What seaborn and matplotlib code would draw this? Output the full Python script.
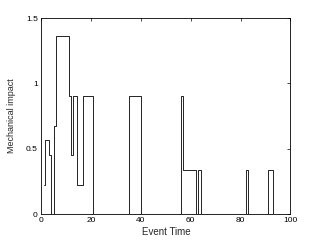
import pandas as pd
import matplotlib
matplotlib.use('Agg')
import matplotlib.pyplot as plt
import seaborn as sns

# Step data (value holds until the next event time)
event_time = [1.0, 1.4, 3.2, 3.8, 5.1, 5.9, 11.2, 12.0, 12.9, 14.2, 16.9, 20.9,
              35.2, 40.0, 56.1, 56.8, 62.0, 62.9, 64.0, 82.1, 83.1, 91.2, 93.2, 100.0]
impact = [0.22, 0.57, 0.45, 0.0, 0.67, 1.36, 0.90, 0.45, 0.90, 0.22, 0.90, 0.0,
          0.90, 0.0, 0.90, 0.34, 0.0, 0.34, 0.0, 0.34, 0.0, 0.34, 0.0, 0.0]

x_ticks = [0, 20, 40, 60, 80, 100]
y_ticks = [0, 0.5, 1, 1.5]
y_tick_labels = ['0', '0.5', '1', '1.5']

df = pd.DataFrame({'Event Time': event_time, 'Mechanical impact': impact})

sns.set_style('white')
plt.rcParams['font.family'] = ['Liberation Sans', 'DejaVu Sans']

fig = plt.figure(figsize=(3.21, 2.42), dpi=100)
ax = fig.add_axes([0.1287, 0.1157, 0.7757, 0.8099])

sns.lineplot(data=df, x='Event Time', y='Mechanical impact', ax=ax,
             drawstyle='steps-post', estimator=None, sort=False,
             color='black', linewidth=0.6)

ax.set_xlim(0, 100)
ax.set_ylim(0, 1.5)
ax.set_xticks(x_ticks)
ax.set_yticks(y_ticks)
ax.set_yticklabels(y_tick_labels)
ax.tick_params(direction='in', length=2.5, width=0.5, labelsize=6,
               top=True, right=True, colors='black', pad=2.5)
for s in ax.spines.values():
    s.set_linewidth(0.6)
    s.set_color('black')

ax.set_xlabel('Event Time', fontsize=7, labelpad=2)
ax.set_ylabel('Mechanical impact', fontsize=6.5, labelpad=7)

fig.savefig('out.png', dpi=100)
